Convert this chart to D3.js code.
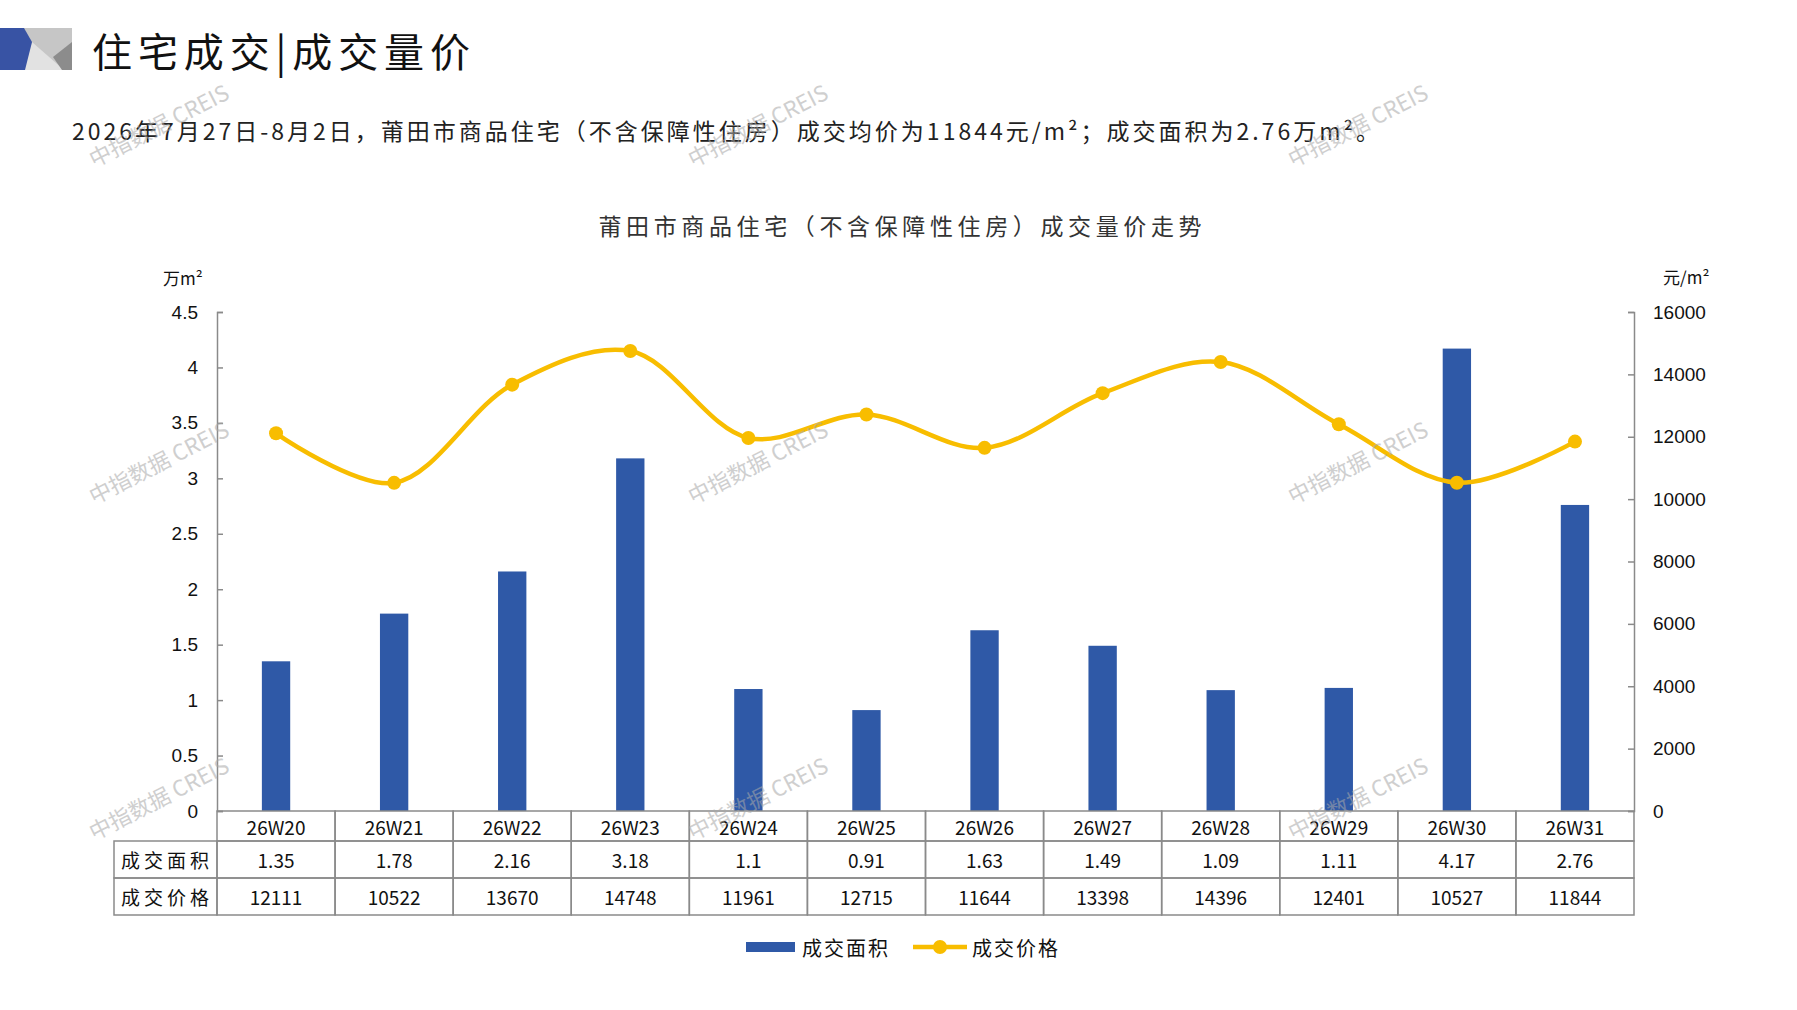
<!DOCTYPE html>
<html>
<head>
<meta charset="utf-8">
<script src="https://cdn.jsdelivr.net/npm/d3@7"></script>
<style>
  body { margin: 0; background: #fff; }
  svg { display: block; font-family: "Noto Sans CJK SC", "Noto Sans", sans-serif; }
</style>
</head>
<body>
<script>
'use strict';

// chart data
const weeks = ["26W20", "26W21", "26W22", "26W23", "26W24", "26W25",
               "26W26", "26W27", "26W28", "26W29", "26W30", "26W31"];
const area = [1.35, 1.78, 2.16, 3.18, 1.1, 0.91, 1.63, 1.49, 1.09, 1.11, 4.17, 2.76];
const price = [12111, 10522, 13670, 14748, 11961, 12715, 11644, 13398, 14396, 12401, 10527, 11844];
const areaTicks = [0, 0.5, 1, 1.5, 2, 2.5, 3, 3.5, 4, 4.5];
const priceTicks = [0, 2000, 4000, 6000, 8000, 10000, 12000, 14000, 16000];
const rowLabels = ["成交面积", "成交价格"];
const seriesNames = ["成交面积", "成交价格"];

(function() {
  let width = 1797;
  let height = 1010;
  let blue = "#2F59A7";
  let gold = "#F8BD00";
  let gray = "#8a8a8a";

  let svg = d3.select("body")
    .append("svg")
    .attr("width", width)
    .attr("height", height);

  // header logo
  let logo = svg.append("g");
  logo.append("rect").attr("x", 22).attr("y", 28).attr("width", 50).attr("height", 42).attr("fill", "#c6c6c6");
  logo.append("polygon").attr("points", "32,42 24,70 64,70").attr("fill", "#e2e2e2");
  logo.append("polygon").attr("points", "53,57 72,42 72,70 62,70").attr("fill", "#8c8c8c");
  logo.append("polygon").attr("points", "0,28 24,28 32,42 25,70 0,70").attr("fill", "#3853A4");

  svg.append("text")
    .attr("x", 92).attr("y", 50)
    .attr("dominant-baseline", "central")
    .attr("font-size", 40)
    .attr("textLength", 378).attr("lengthAdjust", "spacing")
    .attr("fill", "#111")
    .text("住宅成交|成交量价");

  svg.append("text")
    .attr("x", 72).attr("y", 130)
    .attr("dominant-baseline", "central")
    .attr("font-size", 23)
    .attr("letter-spacing", 3)
    .attr("fill", "#222")
    .text("2026年7月27日-8月2日，莆田市商品住宅（不含保障性住房）成交均价为11844元/m²；成交面积为2.76万m²。");

  svg.append("text")
    .attr("x", 900).attr("y", 225)
    .attr("text-anchor", "middle")
    .attr("dominant-baseline", "central")
    .attr("font-size", 23)
    .attr("textLength", 603).attr("lengthAdjust", "spacing")
    .attr("fill", "#333")
    .text("莆田市商品住宅（不含保障性住房）成交量价走势");

  // scales
  let left = 217, right = 1634, top = 312, base = 811;
  let xCell = d3.scaleBand().domain(weeks).range([left, right]);
  let xBar = d3.scaleBand().domain(weeks).range([left, right])
    .paddingInner(0.76).paddingOuter(0.38);
  let yL = d3.scaleLinear().domain([0, 4.5]).range([base, top]);
  let yR = d3.scaleLinear().domain([0, 16000]).range([base, top]);

  // axes
  let axL = svg.append("g")
    .attr("transform", "translate(" + left + ",0)")
    .call(d3.axisLeft(yL).tickValues(areaTicks).tickSize(-6).tickPadding(19).tickFormat(d3.format("")));
  let axR = svg.append("g")
    .attr("transform", "translate(" + right + ",0)")
    .call(d3.axisRight(yR).tickValues(priceTicks).tickSize(-6).tickPadding(19).tickFormat(d3.format("")));
  [axL, axR].forEach((ax) => {
    ax.select(".domain").attr("stroke", gray).attr("stroke-width", 1.5);
    ax.selectAll(".tick line").attr("stroke", gray).attr("stroke-width", 1.5);
    ax.selectAll(".tick text")
      .attr("fill", "#111")
      .attr("font-size", 19)
      .style("font-family", "'Liberation Sans', sans-serif");
  });

  svg.append("text")
    .attr("x", 163).attr("y", 277)
    .attr("dominant-baseline", "central")
    .attr("font-size", 17).attr("fill", "#111")
    .text("万m²");
  svg.append("text")
    .attr("x", 1663).attr("y", 276)
    .attr("dominant-baseline", "central")
    .attr("font-size", 17).attr("fill", "#111")
    .text("元/m²");

  // bars
  svg.append("g").selectAll("rect")
    .data(area)
    .enter()
    .append("rect")
    .attr("x", (d, i) => xBar(weeks[i]))
    .attr("y", d => yL(d))
    .attr("width", xBar.bandwidth())
    .attr("height", d => base - yL(d))
    .attr("fill", blue);

  // price line
  let cx = (i) => xCell(weeks[i]) + xCell.bandwidth() / 2;
  let line = d3.line()
    .x((d, i) => cx(i))
    .y(d => yR(d))
    .curve(d3.curveCatmullRom.alpha(0.5));
  svg.append("path")
    .datum(price)
    .attr("d", line)
    .attr("fill", "none")
    .attr("stroke", gold)
    .attr("stroke-width", 4.5);
  svg.append("g").selectAll("circle")
    .data(price)
    .enter()
    .append("circle")
    .attr("cx", (d, i) => cx(i))
    .attr("cy", d => yR(d))
    .attr("r", 7)
    .attr("fill", gold);

  // data table
  let rows = [base, 841, 878, 915];
  let table = svg.append("g");
  let cells = [];
  weeks.forEach((w, i) => {
    cells.push({ x: xCell(w), y: rows[0], h: rows[1] - rows[0], t: w });
    cells.push({ x: xCell(w), y: rows[1], h: rows[2] - rows[1], t: String(area[i]) });
    cells.push({ x: xCell(w), y: rows[2], h: rows[3] - rows[2], t: String(price[i]) });
  });
  table.selectAll("rect.cell")
    .data(cells)
    .enter()
    .append("rect")
    .attr("class", "cell")
    .attr("x", d => d.x)
    .attr("y", d => d.y)
    .attr("width", xCell.bandwidth())
    .attr("height", d => d.h)
    .attr("fill", "none")
    .attr("stroke", gray)
    .attr("stroke-width", 1.5);
  table.selectAll("text.cell")
    .data(cells)
    .enter()
    .append("text")
    .attr("class", "cell")
    .attr("x", d => d.x + xCell.bandwidth() / 2)
    .attr("y", d => d.y + d.h / 2)
    .attr("text-anchor", "middle")
    .attr("dominant-baseline", "central")
    .attr("font-size", 19)
    .attr("fill", "#111")
    .text(d => d.t);

  rowLabels.forEach((lab, r) => {
    table.append("rect")
      .attr("x", 114).attr("y", rows[r + 1])
      .attr("width", left - 114).attr("height", rows[r + 2] - rows[r + 1])
      .attr("fill", "none").attr("stroke", gray).attr("stroke-width", 1.5);
    table.append("text")
      .attr("x", 165).attr("y", (rows[r + 1] + rows[r + 2]) / 2)
      .attr("text-anchor", "middle")
      .attr("dominant-baseline", "central")
      .attr("font-size", 19)
      .attr("textLength", 88).attr("lengthAdjust", "spacing")
      .attr("fill", "#111")
      .text(lab);
  });

  // legend
  let lg = svg.append("g");
  lg.append("rect").attr("x", 746).attr("y", 942).attr("width", 49).attr("height", 10).attr("fill", blue);
  lg.append("text").attr("x", 802).attr("y", 947)
    .attr("dominant-baseline", "central").attr("font-size", 20)
    .attr("textLength", 86).attr("lengthAdjust", "spacing")
    .attr("fill", "#111").text(seriesNames[0]);
  lg.append("line").attr("x1", 913).attr("x2", 967).attr("y1", 947).attr("y2", 947)
    .attr("stroke", gold).attr("stroke-width", 4.5);
  lg.append("circle").attr("cx", 940).attr("cy", 947).attr("r", 7).attr("fill", gold);
  lg.append("text").attr("x", 972).attr("y", 947)
    .attr("dominant-baseline", "central").attr("font-size", 20)
    .attr("textLength", 86).attr("lengthAdjust", "spacing")
    .attr("fill", "#111").text(seriesNames[1]);

  // watermarks
  let wmX = [158, 757, 1357];
  let wmY = [124, 461, 797];
  let wm = svg.append("g").attr("pointer-events", "none");
  wmY.forEach((y) => {
    wmX.forEach((x) => {
      wm.append("text")
        .attr("transform", "translate(" + x + "," + y + ") rotate(-27)")
        .attr("text-anchor", "middle")
        .attr("dominant-baseline", "central")
        .attr("font-size", 22)
        .attr("fill", "#a8a8a8")
        .attr("opacity", 0.55)
        .text("中指数据 CREIS");
    });
  });
})();
</script>
</body>
</html>
